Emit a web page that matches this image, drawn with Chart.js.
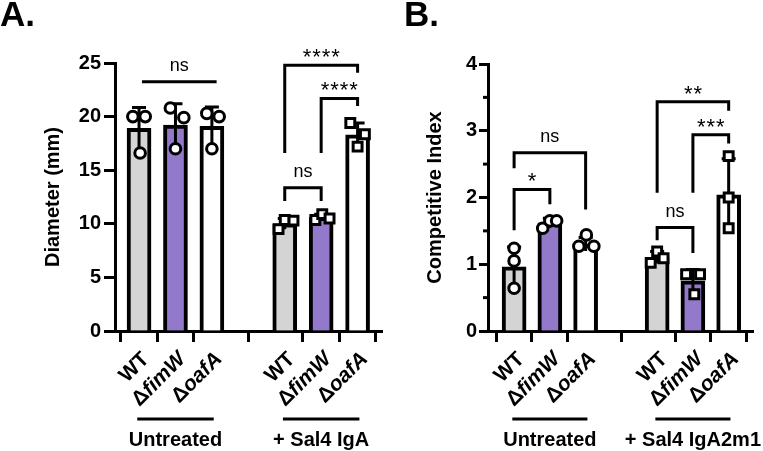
<!DOCTYPE html>
<html>
<head>
<meta charset="utf-8">
<script src="https://cdn.jsdelivr.net/npm/chart.js@4.4.1/dist/chart.umd.min.js"></script>
<style>
  html, body { margin: 0; padding: 0; background: #fff; }
  #wrap { position: relative; width: 763px; height: 451px; }
  canvas { position: absolute; left: 0; top: 0; }
</style>
</head>
<body>
<div id="wrap">
  <canvas id="chartA" width="763" height="451"></canvas>
  <canvas id="chartB" width="763" height="451"></canvas>
</div>
<script>
// category slots: three strains, a gap, three strains
const slots = [0, 1, 2, 4, 5, 6]
const strainLabels = ["WT", "ΔfimW", "ΔoafA", "WT", "ΔfimW", "ΔoafA"]

// A. colony diameter (mm)
const diamMeans = [18.9, 19.2, 19.1, 10.0, 10.6, 18.3]
const diamSD = [1.95, 2.0, 1.8, 0.5, 0.3, 1.1]
const diamReps = [
  [20.0, 16.6, 20.0], [20.8, 17.0, 19.9], [20.3, 17.0, 20.0],
  [9.5, 10.35, 10.3], [10.35, 10.9, 10.5], [19.4, 17.2, 18.35]
]
const diamJitter = [
  [-0.17, 0.03, 0.17], [-0.14, 0, 0.23], [-0.14, 0, 0.2],
  [-0.17, 0, 0.24], [-0.16, 0.03, 0.23], [-0.2, 0, 0.2]
]
const diamTicks = [0, 5, 10, 15, 20, 25]
const diamGroups = ["Untreated", "+ Sal4 IgA"]
// [from, to, top, left leg end, right leg end, label]
const diamSig = [
  [0.08, 2.13, 23.25, null, null, "ns"],
  [4, 6, 24.8, 16.6, 24.1, "****"],
  [5, 6, 21.7, 16.6, 21.0, "****"],
  [4, 5, 13.37, 12.13, 12.13, "ns"]
]

// B. competitive index
const ciMeans = [0.96, 1.62, 1.30, 1.10, 0.75, 2.04]
const ciSD = [0.30, 0.07, 0.10, 0.09, 0.17, 0.54]
const ciReps = [
  [1.24, 1.05, 0.64], [1.54, 1.65, 1.65], [1.27, 1.44, 1.27],
  [1.02, 1.19, 1.09], [0.85, 0.55, 0.85], [2.62, 2.0, 1.54]
]
const ciJitter = [
  [0, 0, 0], [-0.2, 0, 0.19], [-0.19, 0.02, 0.23],
  [-0.18, 0, 0.18], [-0.19, 0.04, 0.2], [0, 0, 0]
]
const ciTicks = [0, 1, 2, 3, 4]
const ciMinor = [0.5, 1.5, 2.5, 3.5]
const ciGroups = ["Untreated", "+ Sal4 IgA2m1"]
const ciSig = [
  [0, 1, 2.12, 1.51, 1.90, "*"],
  [0, 2, 2.67, 2.44, 1.82, "ns"],
  [4, 6, 3.435, 2.07, 3.30, "**"],
  [5, 6, 2.94, 2.07, 2.81, "***"],
  [4, 5, 1.55, 1.36, 1.17, "ns"]
]

const FAMILY = '"Liberation Sans", Arial, sans-serif'
const barColors = ["#d4d4d4", "#9379c9", "#ffffff", "#d4d4d4", "#9379c9", "#ffffff"]
Chart.defaults.font.family = FAMILY
Chart.defaults.color = "#000"

function drawStrain(ctx, text, x, y) {
  const head = text.startsWith("Δ") ? "Δ" : ""
  const rest = text.slice(head.length)
  const fUp = "bold 21px " + FAMILY
  const fIt = head ? "italic bold 21px " + FAMILY : fUp
  ctx.font = fUp
  const w1 = ctx.measureText(head).width
  ctx.font = fIt
  const w2 = ctx.measureText(rest).width
  ctx.save()
  ctx.translate(x, y)
  ctx.rotate(-Math.PI / 4)
  ctx.textBaseline = "middle"
  ctx.textAlign = "left"
  ctx.font = fUp
  ctx.fillText(head, -(w1 + w2), 0)
  ctx.font = fIt
  ctx.fillText(rest, -w2, 0)
  ctx.restore()
}

function panelPlugin(p) {
  return {
    id: "panel" + p.letter,
    afterDatasetDraw(chart, args) {
      if (args.meta.type !== "bar") return
      const { ctx, scales: { x, y } } = chart
      ctx.save()
      ctx.strokeStyle = "#000"
      ctx.lineWidth = 3
      p.means.forEach((m, i) => {
        const px = x.getPixelForValue(slots[i])
        const top = y.getPixelForValue(m + p.sd[i])
        const bot = y.getPixelForValue(m - p.sd[i])
        ctx.beginPath()
        ctx.moveTo(px, bot)
        ctx.lineTo(px, top)
        ctx.moveTo(px - 7, top)
        ctx.lineTo(px + 7, top)
        ctx.stroke()
      })
      ctx.restore()
    },
    afterDraw(chart) {
      const { ctx, scales: { x, y }, chartArea } = chart
      ctx.save()
      ctx.strokeStyle = "#000"
      ctx.fillStyle = "#000"
      ctx.lineWidth = 3

      // minor y ticks
      p.minor.forEach(v => {
        const py = y.getPixelForValue(v)
        ctx.beginPath()
        ctx.moveTo(chartArea.left - 5, py)
        ctx.lineTo(chartArea.left, py)
        ctx.stroke()
      })

      // significance brackets
      ctx.lineJoin = "miter"
      p.sig.forEach(([a, b, top, l, r, label]) => {
        const x1 = x.getPixelForValue(a), x2 = x.getPixelForValue(b)
        const yt = y.getPixelForValue(top)
        ctx.beginPath()
        if (l !== null) ctx.moveTo(x1, y.getPixelForValue(l)), ctx.lineTo(x1, yt)
        else ctx.moveTo(x1, yt)
        ctx.lineTo(x2, yt)
        if (r !== null) ctx.lineTo(x2, y.getPixelForValue(r))
        ctx.stroke()
        const cx = (x1 + x2) / 2
        ctx.textAlign = "center"
        ctx.textBaseline = "alphabetic"
        if (label === "ns") {
          ctx.font = "18px " + FAMILY
          ctx.fillText(label, cx, yt - 11)
        } else {
          ctx.font = "22px " + FAMILY
          const n = label.length
          for (let k = 0; k < n; k++) {
            ctx.fillText("*", cx + (k - (n - 1) / 2) * 9.5, yt - 1)
          }
        }
      })

      // rotated strain labels
      slots.forEach((s, i) => {
        drawStrain(ctx, strainLabels[i], x.getPixelForValue(s) + 7, 356)
      })

      // group lines and names
      p.groups.forEach((g, gi) => {
        const c = gi === 0 ? 1 : 5
        ctx.beginPath()
        ctx.moveTo(x.getPixelForValue(c - 1.05), 419)
        ctx.lineTo(x.getPixelForValue(c + 1.05), 419)
        ctx.stroke()
        ctx.font = "bold 20px " + FAMILY
        ctx.textAlign = "center"
        ctx.textBaseline = "alphabetic"
        ctx.fillText(g, x.getPixelForValue(c), 446)
      })

      // panel letter
      ctx.font = "bold 35px " + FAMILY
      ctx.textAlign = "left"
      ctx.fillText(p.letter + ".", p.letterX, 26)
      ctx.restore()
    }
  }
}

function makePanel(id, p) {
  const points = []
  const styles = []
  p.reps.forEach((vals, i) => {
    vals.forEach((v, j) => {
      points.push({ x: slots[i] + p.jitter[i][j], y: v })
      styles.push(i < 3 ? "circle" : "rect")
    })
  })
  const tickGrid = {
    drawOnChartArea: false, color: "#000", tickColor: "#000",
    tickWidth: 3, tickLength: p.tickLen
  }
  return new Chart(document.getElementById(id), {
    type: "bar",
    data: {
      datasets: [
        {
          type: "bar",
          order: 2,
          data: p.means.map((m, i) => ({ x: slots[i], y: m })),
          backgroundColor: barColors,
          borderColor: "#000",
          borderWidth: 4,
          borderSkipped: "start",
          barThickness: 24
        },
        {
          type: "scatter",
          order: 1,
          data: points,
          pointStyle: styles,
          pointRadius: styles.map(s => (s === "rect" ? 6.3 : 5.3)),
          pointBackgroundColor: "#fff",
          pointBorderColor: "#000",
          pointBorderWidth: 3,
          clip: false
        }
      ]
    },
    options: {
      responsive: false,
      animation: false,
      events: [],
      layout: { padding: p.pad },
      plugins: { legend: { display: false }, tooltip: { enabled: false } },
      scales: {
        x: {
          type: "linear",
          offset: false,
          min: p.xMin,
          max: p.xMax,
          afterBuildTicks: s => { s.ticks = slots.map(v => ({ value: v })) },
          afterFit: s => { s.height = 120 },
          ticks: { display: false },
          grid: { ...tickGrid, tickLength: 11 },
          border: { color: "#000", width: 3 }
        },
        y: {
          min: 0,
          max: p.yTicks[p.yTicks.length - 1],
          afterBuildTicks: s => { s.ticks = p.yTicks.map(v => ({ value: v })) },
          afterFit: s => { s.width = p.yWidth },
          ticks: { color: "#000", padding: p.tickPad, font: { size: 20, weight: "bold" } },
          grid: tickGrid,
          border: { color: "#000", width: 3 },
          title: {
            display: true,
            text: p.title,
            color: "#000",
            font: { size: 20, weight: "bold" },
            padding: { top: p.titlePad, bottom: 0 }
          }
        }
      }
    },
    plugins: [panelPlugin(p)]
  })
}

makePanel("chartA", {
  letter: "A", letterX: 0,
  means: diamMeans, sd: diamSD, reps: diamReps, jitter: diamJitter,
  yTicks: diamTicks, minor: [], groups: diamGroups, sig: diamSig,
  title: "Diameter (mm)",
  pad: { left: 0, top: 63, right: 381, bottom: 0 },
  yWidth: 115, tickLen: 11, tickPad: 3, titlePad: 41,
  xMin: -0.66, xMax: 6.67
})

makePanel("chartB", {
  letter: "B", letterX: 404,
  means: ciMeans, sd: ciSD, reps: ciReps, jitter: ciJitter,
  yTicks: ciTicks, minor: ciMinor, groups: ciGroups, sig: ciSig,
  title: "Competitive Index",
  pad: { left: 380, top: 64, right: 6, bottom: 0 },
  yWidth: 108, tickLen: 9, tickPad: 2, titlePad: 43,
  xMin: -0.73, xMax: 6.7
})
</script>
</body>
</html>
